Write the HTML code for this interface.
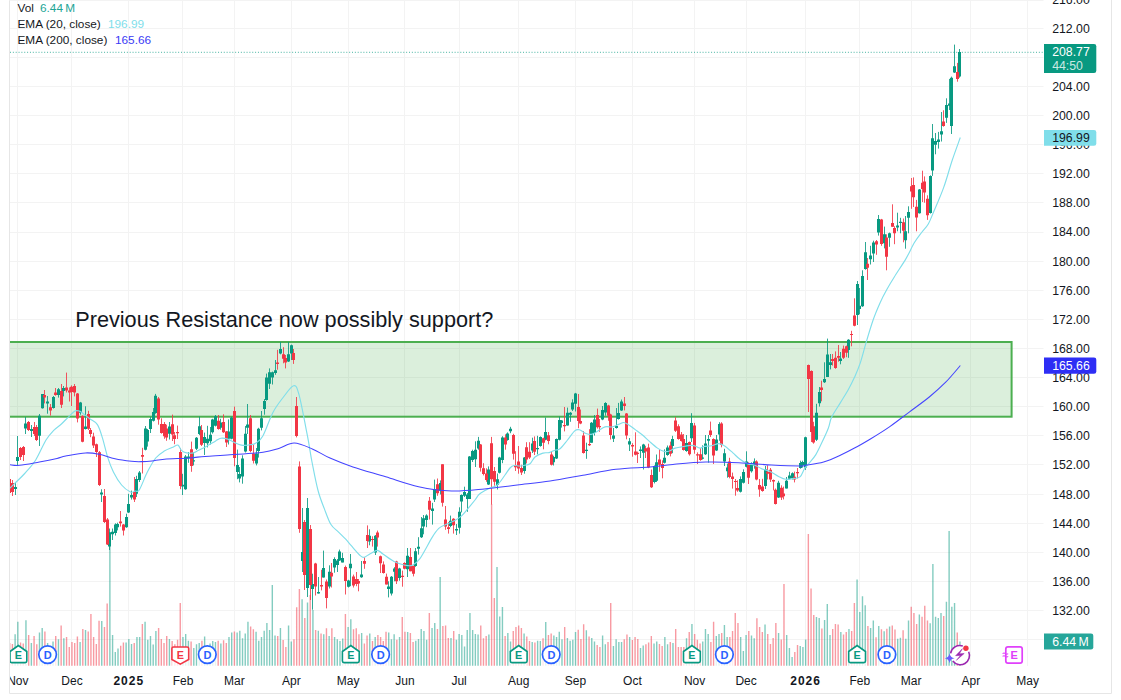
<!DOCTYPE html><html><head><meta charset="utf-8"><style>html,body{margin:0;padding:0;background:#fff;width:1121px;height:700px;overflow:hidden}svg{position:absolute;left:0;top:0;font-family:"Liberation Sans",sans-serif}</style></head><body><svg width="1121" height="700" viewBox="0 0 1121 700"><defs><clipPath id="pane"><rect x="10" y="0" width="1033.5" height="666"/></clipPath><clipPath id="bclip"><rect x="9.6" y="600" width="100" height="70"/></clipPath><clipPath id="tax"><rect x="10" y="666" width="1101" height="27"/></clipPath></defs><path d="M10 639.5H1043.5 M10 610.5H1043.5 M10 581.5H1043.5 M10 552.5H1043.5 M10 523.5H1043.5 M10 494.5H1043.5 M10 464.5H1043.5 M10 435.5H1043.5 M10 406.5H1043.5 M10 377.5H1043.5 M10 348.5H1043.5 M10 319.5H1043.5 M10 290.5H1043.5 M10 261.5H1043.5 M10 232.5H1043.5 M10 202.5H1043.5 M10 173.5H1043.5 M10 144.5H1043.5 M10 115.5H1043.5 M10 86.5H1043.5 M10 57.5H1043.5 M10 28.5H1043.5 M10 -0.5H1043.5 M17.5 0V666 M71.5 0V666 M128.5 0V666 M182.5 0V666 M234.5 0V666 M291.5 0V666 M348.5 0V666 M404.5 0V666 M459.5 0V666 M518.5 0V666 M575.5 0V666 M632.5 0V666 M694.5 0V666 M746.5 0V666 M805.5 0V666 M859.5 0V666 M911.5 0V666 M970.5 0V666 M1027.5 0V666" stroke="#f3f3f3" stroke-width="1" fill="none"/><g clip-path="url(#pane)"><path d="M15.12 634.3V665.7 M17.83 621.7V665.7 M25.95 620.3V665.7 M31.36 643.0V665.7 M39.49 632.6V665.7 M42.19 627.9V665.7 M47.61 642.9V665.7 M53.02 641.4V665.7 M58.44 639.3V665.7 M63.85 638.3V665.7 M80.10 642.1V665.7 M85.51 630.0V665.7 M101.75 621.1V665.7 M109.88 546.0V665.7 M112.58 635.0V665.7 M115.29 652.1V665.7 M118.00 648.6V665.7 M126.12 642.6V665.7 M128.83 638.9V665.7 M131.53 644.0V665.7 M136.95 636.9V665.7 M139.66 636.9V665.7 M145.07 621.7V665.7 M147.78 639.7V665.7 M150.48 636.0V665.7 M153.19 644.6V665.7 M155.90 631.1V665.7 M169.43 638.9V665.7 M182.97 637.1V665.7 M185.68 634.0V665.7 M188.39 640.7V665.7 M193.80 647.9V665.7 M196.51 644.3V665.7 M199.21 642.9V665.7 M204.63 636.4V665.7 M207.34 648.0V665.7 M210.04 643.6V665.7 M212.75 641.0V665.7 M215.46 642.1V665.7 M220.87 643.6V665.7 M228.99 637.1V665.7 M231.70 632.6V665.7 M237.12 632.6V665.7 M239.82 630.7V665.7 M242.53 638.3V665.7 M245.24 633.6V665.7 M247.95 621.7V665.7 M256.07 631.7V665.7 M258.77 640.7V665.7 M261.48 637.1V665.7 M264.19 630.7V665.7 M266.90 622.9V665.7 M269.60 630.0V665.7 M272.31 585.0V665.7 M275.02 635.4V665.7 M280.43 627.9V665.7 M288.55 625.4V665.7 M291.26 641.4V665.7 M302.09 599.3V665.7 M307.51 602.6V665.7 M312.92 610.0V665.7 M318.33 630.7V665.7 M323.75 634.3V665.7 M329.16 636.0V665.7 M334.58 636.9V665.7 M337.28 639.3V665.7 M339.99 641.1V665.7 M342.70 638.6V665.7 M348.11 627.1V665.7 M350.82 619.3V665.7 M361.65 633.1V665.7 M369.77 633.6V665.7 M375.19 637.1V665.7 M388.72 632.6V665.7 M391.43 639.3V665.7 M394.14 634.3V665.7 M399.55 637.1V665.7 M407.67 632.1V665.7 M415.80 640.7V665.7 M418.50 638.9V665.7 M421.21 628.9V665.7 M423.92 631.1V665.7 M426.62 639.7V665.7 M432.04 627.9V665.7 M434.75 623.1V665.7 M440.16 576.9V665.7 M450.99 637.9V665.7 M456.40 639.7V665.7 M459.11 634.0V665.7 M461.82 635.0V665.7 M464.53 646.4V665.7 M467.23 630.0V665.7 M469.94 612.9V665.7 M472.65 630.0V665.7 M475.35 634.0V665.7 M478.06 634.6V665.7 M488.89 634.6V665.7 M497.01 567.0V665.7 M499.72 616.4V665.7 M502.43 607.1V665.7 M507.84 632.9V665.7 M510.55 641.4V665.7 M524.09 633.6V665.7 M532.21 642.1V665.7 M537.62 640.7V665.7 M540.33 641.1V665.7 M545.74 622.1V665.7 M553.87 635.4V665.7 M556.57 637.1V665.7 M559.28 631.7V665.7 M561.99 639.3V665.7 M567.40 637.9V665.7 M570.11 640.7V665.7 M572.82 639.7V665.7 M575.52 632.1V665.7 M586.35 630.3V665.7 M591.77 637.9V665.7 M594.47 641.4V665.7 M602.60 635.4V665.7 M605.30 644.3V665.7 M613.43 646.0V665.7 M616.13 639.3V665.7 M618.84 642.1V665.7 M621.55 642.1V665.7 M629.67 636.9V665.7 M640.50 647.9V665.7 M643.20 645.4V665.7 M654.03 643.6V665.7 M656.74 641.4V665.7 M664.86 636.9V665.7 M667.57 644.3V665.7 M672.98 643.0V665.7 M686.52 638.3V665.7 M691.94 624.0V665.7 M702.76 641.4V665.7 M705.47 628.9V665.7 M708.18 634.0V665.7 M716.30 636.0V665.7 M719.01 634.0V665.7 M724.42 625.0V665.7 M727.13 637.1V665.7 M740.67 637.1V665.7 M743.37 651.1V665.7 M746.08 635.0V665.7 M751.50 635.4V665.7 M754.20 638.3V665.7 M765.03 624.6V665.7 M778.57 633.0V665.7 M786.69 635.0V665.7 M789.40 648.0V665.7 M792.10 657.0V665.7 M800.23 646.0V665.7 M802.93 647.0V665.7 M805.64 639.6V665.7 M816.47 617.0V665.7 M819.18 618.0V665.7 M824.59 620.0V665.7 M827.30 604.0V665.7 M830.01 635.0V665.7 M840.83 632.0V665.7 M848.96 629.0V665.7 M857.08 579.6V665.7 M859.79 612.0V665.7 M862.49 596.3V665.7 M865.20 605.2V665.7 M870.61 628.1V665.7 M873.32 620.6V665.7 M878.74 626.0V665.7 M884.15 631.3V665.7 M889.57 626.6V665.7 M897.69 638.8V665.7 M900.39 637.8V665.7 M905.81 638.8V665.7 M908.52 620.6V665.7 M919.35 614.6V665.7 M930.17 623.2V665.7 M932.88 563.9V665.7 M935.59 616.8V665.7 M938.30 618.1V665.7 M941.00 613.1V665.7 M946.42 601.8V665.7 M949.12 531.1V665.7 M951.83 606.7V665.7 M954.54 603.0V665.7 M959.95 641.6V665.7" stroke="rgba(8,153,129,0.5)" stroke-width="1.4" fill="none"/><path d="M9.71 642.9V665.7 M12.41 644.0V665.7 M20.54 642.6V665.7 M23.24 643.6V665.7 M28.66 635.0V665.7 M34.07 636.0V665.7 M36.78 644.3V665.7 M44.90 631.4V665.7 M50.32 645.7V665.7 M55.73 636.0V665.7 M61.14 625.4V665.7 M66.56 636.9V665.7 M69.27 646.9V665.7 M71.97 642.1V665.7 M74.68 643.0V665.7 M77.39 636.4V665.7 M82.80 628.9V665.7 M88.22 631.4V665.7 M90.92 614.0V665.7 M93.63 637.1V665.7 M96.34 644.0V665.7 M99.05 620.7V665.7 M104.46 627.1V665.7 M107.17 603.6V665.7 M120.70 645.7V665.7 M123.41 642.6V665.7 M134.24 643.0V665.7 M142.36 624.0V665.7 M158.61 627.9V665.7 M161.31 638.9V665.7 M164.02 643.0V665.7 M166.73 636.0V665.7 M172.14 641.1V665.7 M174.85 644.3V665.7 M177.56 639.7V665.7 M180.26 602.9V665.7 M191.09 641.4V665.7 M201.92 640.7V665.7 M218.17 640.7V665.7 M223.58 640.3V665.7 M226.29 643.0V665.7 M234.41 631.4V665.7 M250.65 626.4V665.7 M253.36 629.3V665.7 M277.73 636.0V665.7 M283.14 640.0V665.7 M285.85 647.1V665.7 M293.97 639.3V665.7 M296.68 607.2V665.7 M299.38 589.0V665.7 M304.80 617.9V665.7 M310.21 595.0V665.7 M315.63 630.0V665.7 M321.04 633.6V665.7 M326.46 628.3V665.7 M331.87 628.3V665.7 M345.41 614.0V665.7 M353.53 629.3V665.7 M356.24 628.3V665.7 M358.94 634.3V665.7 M364.36 643.6V665.7 M367.06 635.4V665.7 M372.48 641.1V665.7 M377.89 635.0V665.7 M380.60 637.1V665.7 M383.31 641.1V665.7 M386.02 631.7V665.7 M396.84 639.7V665.7 M402.26 617.1V665.7 M404.97 631.7V665.7 M410.38 632.9V665.7 M413.09 642.1V665.7 M429.33 612.9V665.7 M437.45 628.9V665.7 M442.87 626.0V665.7 M445.58 625.4V665.7 M448.28 637.9V665.7 M453.70 631.1V665.7 M480.77 625.4V665.7 M483.48 638.3V665.7 M486.18 636.0V665.7 M491.60 504.0V665.7 M494.31 597.9V665.7 M505.13 636.0V665.7 M513.26 631.1V665.7 M515.96 627.1V665.7 M518.67 625.4V665.7 M521.38 627.9V665.7 M526.79 636.4V665.7 M529.50 641.1V665.7 M534.91 642.6V665.7 M543.04 638.3V665.7 M548.45 635.0V665.7 M551.16 633.6V665.7 M564.69 627.1V665.7 M578.23 629.7V665.7 M580.94 638.9V665.7 M583.65 624.3V665.7 M589.06 636.4V665.7 M597.18 645.0V665.7 M599.89 647.1V665.7 M608.01 642.1V665.7 M610.72 602.9V665.7 M624.25 639.3V665.7 M626.96 634.6V665.7 M632.38 640.0V665.7 M635.08 637.1V665.7 M637.79 638.9V665.7 M645.91 644.3V665.7 M648.62 642.6V665.7 M651.33 636.0V665.7 M659.45 644.0V665.7 M662.16 646.0V665.7 M670.28 642.1V665.7 M675.69 628.9V665.7 M678.40 647.1V665.7 M681.11 647.1V665.7 M683.81 647.1V665.7 M689.23 632.1V665.7 M694.64 634.0V665.7 M697.35 639.7V665.7 M700.06 643.6V665.7 M710.89 642.1V665.7 M713.59 621.7V665.7 M721.72 632.9V665.7 M729.84 637.1V665.7 M732.54 631.1V665.7 M735.25 612.9V665.7 M737.96 622.9V665.7 M748.79 631.1V665.7 M756.91 618.3V665.7 M759.62 627.1V665.7 M762.32 632.1V665.7 M767.74 634.0V665.7 M770.45 644.0V665.7 M773.15 637.9V665.7 M775.86 623.1V665.7 M781.27 639.6V665.7 M783.98 584.0V665.7 M794.81 652.0V665.7 M797.52 645.0V665.7 M808.35 534.0V665.7 M811.05 588.4V665.7 M813.76 615.0V665.7 M821.88 628.4V665.7 M832.71 629.0V665.7 M835.42 624.0V665.7 M838.13 624.4V665.7 M843.54 634.4V665.7 M846.25 632.0V665.7 M851.66 631.0V665.7 M854.37 603.0V665.7 M867.91 626.0V665.7 M876.03 637.3V665.7 M881.44 629.2V665.7 M886.86 628.8V665.7 M892.27 625.4V665.7 M894.98 629.6V665.7 M903.10 630.3V665.7 M911.22 606.7V665.7 M913.93 613.1V665.7 M916.64 623.9V665.7 M922.05 616.8V665.7 M924.76 605.7V665.7 M927.47 620.6V665.7 M943.71 616.0V665.7 M957.25 632.4V665.7" stroke="rgba(242,54,69,0.5)" stroke-width="1.4" fill="none"/><rect x="-5" y="342" width="1016.6" height="74.7" fill="rgba(76,175,80,0.2)" stroke="#4caf50" stroke-width="2"/><path d="M15.5 483.0V495.0 M17.5 436.0V466.0 M25.5 417.0V434.0 M31.5 425.0V437.0 M39.5 414.0V446.0 M42.5 394.0V408.6 M47.5 396.0V413.7 M53.5 396.0V408.6 M58.5 388.0V397.6 M63.5 386.0V396.4 M80.5 401.9V414.7 M85.5 406.3V429.5 M101.5 489.3V502.0 M109.5 528.5V550.0 M112.5 528.5V540.0 M115.5 523.3V535.5 M117.5 522.7V530.4 M126.5 513.7V527.8 M128.5 493.8V513.0 M131.5 490.6V499.6 M136.5 475.8V497.0 M139.5 471.0V482.0 M145.5 426.0V450.4 M147.5 429.0V446.6 M150.5 417.0V433.0 M153.5 408.0V421.5 M155.5 393.9V413.8 M169.5 422.0V439.5 M182.5 473.8V495.0 M185.5 455.0V489.8 M188.5 452.0V462.8 M193.5 452.0V465.4 M196.5 437.0V450.0 M199.5 416.6V435.2 M204.5 432.6V455.0 M207.5 425.8V447.4 M210.5 427.0V444.5 M212.5 418.8V433.6 M215.5 415.0V426.5 M220.5 418.8V429.7 M228.5 419.4V444.5 M231.5 416.8V439.3 M237.5 449.6V479.2 M239.5 467.0V482.4 M242.5 455.3V483.7 M245.5 426.0V452.5 M247.5 404.0V434.0 M256.5 448.0V465.4 M258.5 427.8V457.6 M261.5 411.0V430.4 M264.5 399.0V414.7 M266.5 373.6V400.6 M269.5 368.4V389.0 M272.5 371.6V384.5 M275.5 360.0V374.8 M280.5 342.0V354.3 M288.5 342.0V362.0 M291.5 344.6V360.0 M302.5 508.0V572.0 M307.5 498.0V597.0 M312.5 573.7V609.7 M318.5 577.0V593.6 M323.5 550.6V577.6 M329.5 565.3V588.5 M334.5 557.3V572.7 M337.5 559.0V572.0 M339.5 549.6V561.0 M342.5 552.8V562.4 M348.5 579.8V587.5 M350.5 554.0V586.2 M361.5 561.0V577.8 M369.5 529.3V545.3 M375.5 535.0V555.0 M388.5 581.3V597.4 M391.5 576.0V595.5 M394.5 567.2V581.3 M399.5 567.8V580.7 M407.5 548.0V577.0 M415.5 548.0V566.8 M418.5 537.2V554.6 M421.5 517.0V538.0 M423.5 515.0V534.3 M426.5 514.3V527.2 M432.5 502.8V524.6 M434.5 479.6V502.0 M440.5 480.4V494.5 M450.5 515.6V527.2 M456.5 524.0V535.0 M459.5 507.3V533.6 M461.5 494.4V512.4 M464.5 486.7V497.0 M467.5 493.0V511.8 M469.5 456.0V499.0 M472.5 449.7V462.0 M475.5 441.3V467.0 M478.5 436.9V449.7 M488.5 466.4V485.0 M497.5 473.5V489.5 M499.5 456.8V473.5 M502.5 436.2V463.2 M507.5 432.4V440.7 M510.5 426.8V433.2 M524.5 457.0V473.7 M532.5 437.7V453.0 M537.5 435.8V454.4 M540.5 436.4V446.7 M545.5 417.5V440.3 M553.5 455.8V465.5 M556.5 438.5V459.0 M559.5 416.6V440.4 M561.5 420.0V427.6 M567.5 407.6V425.6 M570.5 412.0V421.8 M572.5 399.3V411.0 M575.5 392.9V411.5 M586.5 442.7V458.8 M591.5 422.0V442.7 M594.5 415.0V435.6 M602.5 406.0V420.2 M605.5 402.2V415.7 M613.5 428.0V442.0 M616.5 408.0V428.6 M618.5 402.9V419.6 M621.5 399.5V411.0 M629.5 438.0V451.0 M640.5 446.4V458.0 M643.5 443.8V469.5 M654.5 465.4V483.4 M656.5 454.5V482.0 M664.5 449.3V463.5 M667.5 445.5V455.8 M672.5 435.8V453.2 M686.5 435.0V451.8 M691.5 413.2V442.0 M702.5 445.3V459.5 M705.5 435.0V455.0 M708.5 435.0V462.7 M716.5 435.0V451.0 M719.5 422.2V440.8 M724.5 448.8V466.0 M727.5 463.6V477.7 M740.5 476.4V492.5 M743.5 469.3V483.5 M746.5 451.3V467.4 M751.5 462.3V472.6 M754.5 458.4V468.7 M765.5 466.0V489.0 M778.5 480.8V498.0 M786.5 477.0V488.5 M789.5 471.8V479.5 M792.5 472.4V479.5 M800.5 460.7V468.7 M802.5 460.7V467.6 M805.5 436.7V469.9 M816.5 403.8V441.0 M819.5 387.0V406.6 M824.5 362.3V383.0 M827.5 338.6V377.0 M830.5 354.0V369.4 M840.5 352.0V364.3 M848.5 339.2V357.8 M857.5 281.0V325.0 M859.5 288.0V314.3 M862.5 270.3V306.9 M865.5 242.0V269.7 M870.5 245.8V264.5 M873.5 240.7V262.0 M878.5 215.0V235.6 M884.5 226.6V248.4 M889.5 232.6V246.8 M897.5 212.7V231.3 M900.5 217.8V233.3 M905.5 216.0V248.7 M908.5 206.3V233.3 M919.5 189.0V213.6 M930.5 175.3V213.6 M932.5 124.0V175.9 M935.5 133.0V154.3 M938.5 131.9V148.6 M941.5 112.0V141.5 M946.5 98.3V122.9 M949.5 78.9V110.0 M951.5 76.6V134.0 M954.5 44.6V73.0 M959.5 49.0V77.7" stroke="#089981" stroke-opacity="0.85" stroke-width="1" fill="none"/><path d="M9.5 477.0V495.0 M12.5 480.0V496.0 M20.5 447.0V460.0 M23.5 446.0V461.0 M28.5 421.0V431.0 M34.5 422.0V436.0 M36.5 425.0V441.0 M44.5 390.0V403.4 M50.5 404.0V415.6 M55.5 388.0V395.7 M61.5 384.0V408.0 M66.5 372.6V392.5 M69.5 387.4V401.5 M71.5 385.4V406.0 M74.5 384.0V396.4 M77.5 393.0V422.4 M82.5 415.3V442.3 M88.5 410.8V430.0 M90.5 428.0V437.2 M93.5 432.7V448.0 M96.5 443.6V457.0 M99.5 451.0V486.0 M104.5 489.0V523.0 M107.5 518.0V545.0 M120.5 511.0V526.6 M123.5 524.0V535.5 M134.5 477.0V502.0 M142.5 447.8V473.5 M158.5 397.0V424.7 M161.5 418.3V433.7 M164.5 422.0V438.8 M166.5 424.7V440.8 M172.5 414.6V441.0 M174.5 432.0V444.2 M177.5 425.6V439.0 M180.5 448.0V489.2 M191.5 441.6V471.8 M201.5 425.0V446.0 M218.5 415.0V429.7 M223.5 414.3V433.0 M226.5 431.0V447.0 M234.5 406.6V466.3 M250.5 415.0V452.3 M253.5 444.7V463.5 M277.5 349.8V369.7 M283.5 347.2V363.3 M285.5 355.0V368.4 M293.5 349.0V363.9 M296.5 397.0V437.4 M299.5 461.4V532.8 M304.5 520.0V590.0 M310.5 525.0V600.0 M315.5 562.8V595.5 M321.5 569.8V590.4 M326.5 579.5V608.4 M331.5 563.0V587.5 M345.5 565.6V594.5 M353.5 574.6V587.5 M356.5 572.0V586.2 M358.5 579.0V591.3 M364.5 557.3V568.8 M367.5 525.4V548.0 M372.5 536.3V546.6 M377.5 530.6V546.6 M380.5 555.6V573.0 M383.5 561.4V573.6 M386.5 573.6V584.5 M396.5 560.8V584.0 M402.5 570.6V586.7 M404.5 562.3V569.3 M410.5 548.0V571.3 M413.5 565.5V576.4 M429.5 497.0V519.5 M437.5 478.5V495.8 M442.5 464.3V506.6 M445.5 506.0V529.8 M448.5 522.0V533.6 M453.5 518.2V533.6 M480.5 444.0V471.6 M483.5 463.2V475.4 M486.5 468.3V481.8 M491.5 436.9V504.5 M494.5 467.0V485.7 M505.5 434.3V449.7 M513.5 433.8V459.6 M515.5 451.2V471.0 M518.5 446.0V473.7 M521.5 464.7V475.0 M526.5 442.2V463.4 M529.5 442.2V459.0 M534.5 436.4V455.0 M543.5 437.7V449.3 M548.5 432.0V444.3 M551.5 451.3V465.5 M564.5 407.0V431.4 M578.5 394.0V428.2 M580.5 409.5V424.2 M583.5 431.0V453.6 M589.5 429.2V446.0 M597.5 408.6V428.6 M599.5 419.0V431.8 M608.5 404.8V420.8 M610.5 413.8V439.5 M624.5 397.0V410.4 M626.5 413.0V439.3 M632.5 443.2V456.7 M635.5 432.3V455.4 M637.5 451.6V463.0 M645.5 445.8V458.0 M648.5 443.7V468.2 M651.5 469.5V488.0 M659.5 449.3V471.8 M662.5 460.3V478.3 M670.5 441.6V456.4 M675.5 417.2V432.0 M678.5 424.3V439.7 M681.5 432.0V441.6 M683.5 434.0V450.6 M689.5 441.5V455.6 M694.5 422.9V453.7 M697.5 452.4V464.0 M700.5 448.0V460.8 M710.5 421.6V437.0 M713.5 438.3V464.0 M721.5 422.2V447.3 M729.5 457.8V478.3 M732.5 472.6V488.6 M735.5 479.0V495.7 M737.5 480.3V491.8 M748.5 462.3V484.0 M756.5 460.3V480.3 M759.5 479.0V496.8 M762.5 478.8V491.7 M767.5 465.3V479.5 M770.5 468.0V482.0 M773.5 479.5V490.4 M775.5 488.5V504.5 M781.5 485.3V500.0 M783.5 486.6V499.4 M794.5 471.6V482.4 M797.5 468.0V478.4 M808.5 364.6V412.0 M811.5 370.4V442.0 M813.5 421.8V443.7 M821.5 380.7V401.3 M832.5 354.0V365.6 M835.5 351.4V368.8 M838.5 345.0V361.7 M843.5 345.6V359.0 M846.5 345.6V357.2 M851.5 330.8V346.3 M854.5 298.3V326.3 M867.5 258.0V280.0 M876.5 240.0V254.8 M881.5 218.9V245.8 M886.5 234.3V270.3 M892.5 204.3V226.8 M894.5 226.2V244.2 M903.5 218.5V242.3 M911.5 178.0V208.8 M913.5 177.4V207.0 M916.5 199.9V231.3 M922.5 170.7V202.0 M924.5 176.4V202.7 M927.5 195.3V219.9 M943.5 110.3V126.7 M957.5 62.9V81.7" stroke="#f23645" stroke-opacity="0.85" stroke-width="1" fill="none"/><path d="M14 487.0h3v2.0h-3z M16 457.0h3v4.0h-3z M24 423.5h3v5.1h-3z M30 429.0h3v2.0h-3z M38 415.8h3v19.9h-3z M41 394.0h3v14.3h-3z M46 401.5h3v1.9h-3z M52 397.0h3v11.0h-3z M57 389.3h3v5.7h-3z M62 388.0h3v3.0h-3z M79 402.5h3v10.3h-3z M84 426.5h3v2.5h-3z M100 492.5h3v1.9h-3z M108 532.3h3v14.2h-3z M111 531.7h3v2.6h-3z M114 524.6h3v8.4h-3z M116 524.0h3v3.2h-3z M125 517.0h3v10.2h-3z M127 504.0h3v8.4h-3z M130 495.0h3v2.6h-3z M135 479.0h3v14.8h-3z M138 472.6h3v7.4h-3z M144 428.6h3v21.2h-3z M146 430.0h3v11.4h-3z M149 419.0h3v10.0h-3z M152 411.9h3v8.9h-3z M154 395.8h3v17.2h-3z M168 426.6h3v7.1h-3z M181 484.7h3v1.9h-3z M184 456.4h3v32.8h-3z M187 456.4h3v1.9h-3z M192 460.3h3v1.3h-3z M195 437.8h3v10.9h-3z M198 426.2h3v7.8h-3z M203 437.0h3v6.0h-3z M206 438.7h3v4.5h-3z M209 434.8h3v6.5h-3z M211 419.4h3v12.9h-3z M214 416.2h3v9.6h-3z M219 422.6h3v5.2h-3z M227 431.6h3v7.1h-3z M230 417.5h3v21.2h-3z M236 465.0h3v7.0h-3z M238 474.0h3v4.5h-3z M241 458.5h3v17.9h-3z M244 433.7h3v17.9h-3z M246 424.6h3v3.2h-3z M255 453.4h3v10.1h-3z M257 428.7h3v22.3h-3z M260 418.2h3v9.6h-3z M263 401.0h3v8.0h-3z M265 377.4h3v22.6h-3z M268 372.3h3v11.5h-3z M271 372.3h3v5.1h-3z M274 370.3h3v2.6h-3z M279 349.0h3v4.6h-3z M287 354.3h3v7.1h-3z M290 345.3h3v8.3h-3z M301 552.0h3v9.0h-3z M306 508.0h3v80.0h-3z M311 584.0h3v5.0h-3z M317 592.0h3v1.6h-3z M322 568.0h3v9.6h-3z M328 571.8h3v14.7h-3z M333 559.0h3v8.6h-3z M336 560.5h3v4.5h-3z M338 551.5h3v9.0h-3z M341 558.0h3v4.4h-3z M347 580.4h3v6.4h-3z M349 563.7h3v4.5h-3z M360 574.6h3v2.6h-3z M368 535.7h3v5.8h-3z M374 535.7h3v16.7h-3z M387 586.5h3v2.5h-3z M390 576.8h3v16.7h-3z M393 568.5h3v3.2h-3z M398 568.5h3v9.5h-3z M406 555.8h3v13.5h-3z M414 551.3h3v14.7h-3z M417 546.8h3v2.0h-3z M420 528.2h3v9.0h-3z M422 518.2h3v8.4h-3z M425 515.6h3v4.4h-3z M431 508.6h3v2.4h-3z M433 489.3h3v10.3h-3z M439 483.0h3v7.7h-3z M449 520.8h3v5.2h-3z M455 529.0h3v1.4h-3z M458 511.8h3v16.0h-3z M460 495.0h3v6.5h-3z M463 491.9h3v3.8h-3z M466 494.4h3v4.6h-3z M468 456.6h3v42.4h-3z M471 451.0h3v9.0h-3z M474 449.7h3v9.6h-3z M477 440.7h3v7.7h-3z M487 469.6h3v14.8h-3z M496 479.3h3v5.7h-3z M498 457.4h3v15.4h-3z M501 437.5h3v22.5h-3z M506 433.6h3v6.4h-3z M509 428.7h3v2.6h-3z M523 457.6h3v13.4h-3z M531 443.5h3v7.0h-3z M536 448.0h3v1.3h-3z M539 437.0h3v9.0h-3z M544 432.0h3v7.7h-3z M552 457.0h3v5.3h-3z M555 439.0h3v19.4h-3z M558 420.0h3v19.8h-3z M560 420.5h3v2.5h-3z M566 412.8h3v12.8h-3z M569 412.8h3v1.9h-3z M571 402.5h3v7.1h-3z M574 393.5h3v10.3h-3z M585 449.8h3v1.2h-3z M590 422.8h3v19.9h-3z M593 419.6h3v13.4h-3z M601 410.0h3v9.6h-3z M604 402.9h3v9.6h-3z M612 435.6h3v3.2h-3z M615 426.0h3v2.0h-3z M617 413.0h3v6.0h-3z M620 401.4h3v9.0h-3z M628 441.3h3v3.2h-3z M639 449.6h3v1.4h-3z M642 444.5h3v8.3h-3z M653 466.0h3v16.0h-3z M655 462.2h3v18.6h-3z M663 457.7h3v5.1h-3z M666 447.4h3v7.6h-3z M671 439.0h3v7.0h-3z M685 443.0h3v8.0h-3z M690 422.9h3v15.4h-3z M701 457.6h3v1.2h-3z M704 443.4h3v10.9h-3z M707 439.0h3v1.8h-3z M715 439.6h3v10.9h-3z M718 424.0h3v10.4h-3z M723 453.3h3v8.3h-3z M726 467.4h3v3.9h-3z M739 479.0h3v12.8h-3z M742 472.0h3v10.8h-3z M745 461.6h3v5.2h-3z M750 463.6h3v7.7h-3z M753 461.6h3v3.9h-3z M764 469.2h3v16.8h-3z M777 482.7h3v14.8h-3z M785 480.8h3v7.7h-3z M788 475.6h3v3.2h-3z M791 473.3h3v4.9h-3z M799 463.0h3v5.0h-3z M801 461.9h3v3.4h-3z M804 437.3h3v30.3h-3z M815 412.8h3v27.0h-3z M818 392.0h3v11.3h-3z M823 379.0h3v3.3h-3z M826 354.6h3v22.4h-3z M829 362.3h3v2.7h-3z M839 358.5h3v2.5h-3z M847 339.8h3v10.2h-3z M856 284.0h3v30.9h-3z M858 305.7h3v3.3h-3z M861 276.0h3v30.3h-3z M864 252.3h3v16.7h-3z M869 255.5h3v3.8h-3z M872 242.6h3v11.0h-3z M877 218.9h3v13.5h-3z M883 234.3h3v9.0h-3z M888 233.3h3v4.5h-3z M896 225.6h3v1.9h-3z M899 221.7h3v1.3h-3z M904 231.3h3v9.0h-3z M907 212.0h3v5.8h-3z M918 189.6h3v23.7h-3z M929 175.9h3v37.1h-3z M931 138.3h3v32.1h-3z M934 141.0h3v3.7h-3z M937 139.6h3v2.4h-3z M940 131.2h3v3.2h-3z M945 105.0h3v12.7h-3z M948 103.4h3v2.3h-3z M950 77.7h3v48.3h-3z M953 66.3h3v6.3h-3z M958 52.0h3v24.6h-3z" fill="#089981"/><path d="M8 479.0h3v14.0h-3z M11 483.0h3v9.0h-3z M19 448.0h3v9.0h-3z M22 447.0h3v8.0h-3z M27 422.0h3v8.0h-3z M33 427.0h3v7.0h-3z M35 427.0h3v13.0h-3z M43 395.0h3v2.6h-3z M49 407.3h3v3.2h-3z M54 392.5h3v2.5h-3z M60 391.0h3v13.7h-3z M65 387.4h3v3.2h-3z M68 390.6h3v1.9h-3z M70 386.7h3v5.2h-3z M73 386.0h3v6.5h-3z M76 393.5h3v25.1h-3z M81 416.0h3v25.7h-3z M87 414.0h3v14.8h-3z M89 430.0h3v4.0h-3z M92 436.6h3v9.0h-3z M95 444.3h3v7.7h-3z M98 452.2h3v32.8h-3z M103 496.0h3v26.0h-3z M106 519.5h3v25.0h-3z M119 521.4h3v1.9h-3z M122 524.6h3v5.8h-3z M133 491.9h3v7.7h-3z M141 455.0h3v1.8h-3z M157 398.4h3v21.2h-3z M160 424.0h3v9.0h-3z M163 424.0h3v12.3h-3z M165 428.6h3v9.0h-3z M171 424.3h3v10.3h-3z M173 435.2h3v3.8h-3z M176 432.0h3v1.3h-3z M179 452.0h3v34.0h-3z M190 449.3h3v16.7h-3z M200 430.0h3v14.8h-3z M217 420.7h3v8.3h-3z M222 422.0h3v10.3h-3z M225 431.6h3v11.0h-3z M233 411.0h3v47.0h-3z M249 418.2h3v32.8h-3z M252 453.4h3v7.4h-3z M276 362.6h3v1.4h-3z M282 354.3h3v4.5h-3z M284 358.0h3v4.6h-3z M292 353.0h3v7.0h-3z M295 406.0h3v30.0h-3z M298 466.6h3v62.4h-3z M303 522.0h3v53.0h-3z M309 529.0h3v56.0h-3z M314 563.4h3v23.1h-3z M320 585.0h3v1.5h-3z M325 581.4h3v16.6h-3z M330 572.7h3v3.9h-3z M344 567.0h3v14.0h-3z M352 576.6h3v8.9h-3z M355 579.0h3v5.0h-3z M357 581.0h3v2.6h-3z M363 561.0h3v2.7h-3z M366 535.0h3v6.0h-3z M371 539.0h3v1.0h-3z M376 532.5h3v5.1h-3z M379 556.3h3v7.0h-3z M382 564.6h3v8.4h-3z M385 576.8h3v7.7h-3z M395 561.4h3v19.9h-3z M401 575.8h3v1.2h-3z M403 563.0h3v5.7h-3z M409 557.0h3v14.3h-3z M412 566.0h3v7.8h-3z M428 500.8h3v9.0h-3z M436 484.3h3v9.0h-3z M441 464.3h3v38.5h-3z M444 519.5h3v7.1h-3z M447 527.2h3v1.9h-3z M452 518.8h3v6.5h-3z M479 444.6h3v23.1h-3z M482 468.3h3v5.7h-3z M485 473.5h3v6.5h-3z M490 443.3h3v36.0h-3z M493 471.0h3v10.8h-3z M504 437.5h3v7.1h-3z M512 435.0h3v18.8h-3z M514 465.3h3v2.0h-3z M517 461.5h3v7.0h-3z M520 468.0h3v4.4h-3z M525 447.3h3v12.3h-3z M528 451.8h3v5.8h-3z M533 441.0h3v10.8h-3z M542 438.3h3v4.5h-3z M547 435.3h3v5.7h-3z M550 454.5h3v10.3h-3z M563 425.0h3v1.3h-3z M577 407.0h3v14.0h-3z M579 421.0h3v2.5h-3z M582 435.5h3v17.5h-3z M588 444.0h3v1.3h-3z M596 415.0h3v12.3h-3z M598 426.0h3v1.3h-3z M607 405.4h3v10.3h-3z M609 414.4h3v20.6h-3z M623 403.4h3v2.6h-3z M625 413.6h3v21.9h-3z M631 445.0h3v1.4h-3z M634 451.6h3v3.2h-3z M636 452.8h3v1.2h-3z M644 448.3h3v3.3h-3z M647 447.5h3v20.0h-3z M650 475.0h3v12.3h-3z M658 459.6h3v5.2h-3z M661 464.0h3v4.0h-3z M669 445.5h3v8.3h-3z M674 420.4h3v10.3h-3z M677 426.2h3v12.8h-3z M680 434.6h3v6.4h-3z M682 439.0h3v11.0h-3z M688 442.0h3v12.3h-3z M693 425.4h3v24.4h-3z M696 454.3h3v1.3h-3z M699 454.3h3v5.7h-3z M709 430.6h3v4.4h-3z M712 439.0h3v16.6h-3z M720 423.5h3v21.5h-3z M728 461.6h3v15.4h-3z M731 476.4h3v2.6h-3z M734 481.0h3v1.0h-3z M736 488.0h3v2.6h-3z M747 464.8h3v12.9h-3z M755 461.5h3v18.1h-3z M758 485.0h3v4.5h-3z M761 486.6h3v4.4h-3z M766 471.8h3v1.9h-3z M769 469.8h3v9.7h-3z M772 480.0h3v1.4h-3z M774 489.8h3v14.2h-3z M780 487.8h3v9.7h-3z M782 493.6h3v2.6h-3z M793 476.7h3v2.9h-3z M796 472.0h3v1.3h-3z M807 365.0h3v14.0h-3z M810 371.0h3v61.0h-3z M812 426.3h3v16.1h-3z M820 387.6h3v2.3h-3z M831 359.0h3v2.0h-3z M834 357.8h3v10.2h-3z M837 356.0h3v1.8h-3z M842 348.8h3v9.0h-3z M845 346.3h3v6.4h-3z M850 334.0h3v1.0h-3z M853 315.4h3v10.3h-3z M866 263.8h3v3.9h-3z M875 241.3h3v3.3h-3z M880 219.5h3v24.5h-3z M885 237.5h3v19.3h-3z M891 223.0h3v3.8h-3z M893 228.1h3v5.2h-3z M902 222.3h3v8.4h-3z M910 186.3h3v5.2h-3z M912 185.0h3v12.3h-3z M915 206.7h3v10.9h-3z M921 182.7h3v6.3h-3z M923 181.6h3v10.8h-3z M926 198.7h3v16.6h-3z M942 121.6h3v4.4h-3z M956 72.0h3v6.9h-3z" fill="#f23645"/><path d="M9.0 489.0C10.0 488.1 12.2 486.0 14.8 483.4C17.4 480.8 21.2 477.4 24.7 473.5C28.2 469.6 32.2 465.6 35.7 460.0C39.2 454.4 43.0 444.9 46.0 440.0C49.0 435.1 51.1 433.1 53.7 430.4C56.3 427.7 58.8 426.4 61.4 424.0C64.0 421.6 66.8 418.4 69.1 416.3C71.3 414.2 73.2 412.0 74.9 411.1C76.6 410.2 78.0 410.7 79.4 411.1C80.8 411.5 81.6 412.4 83.3 413.7C85.0 415.0 87.3 417.0 89.7 418.8C92.1 420.6 95.3 421.4 97.4 424.6C99.5 427.8 100.8 432.6 102.5 438.1C104.2 443.6 105.9 451.8 107.7 457.4C109.5 463.0 111.1 467.4 113.4 472.0C115.7 476.6 118.8 481.7 121.6 485.0C124.4 488.3 128.3 491.0 130.5 492.0C132.7 493.0 133.5 491.4 135.0 491.0C136.5 490.6 137.4 492.8 139.4 489.7C141.4 486.6 144.4 477.9 147.1 472.6C149.8 467.3 152.8 461.6 155.7 458.0C158.6 454.4 161.4 452.9 164.3 451.1C167.2 449.3 170.6 448.2 172.9 447.2C175.2 446.2 176.6 444.6 178.0 445.1C179.4 445.6 180.0 449.0 181.4 450.3C182.8 451.6 184.6 452.5 186.6 452.9C188.6 453.3 191.4 453.3 193.4 452.9C195.4 452.5 196.3 451.4 198.6 450.3C200.9 449.2 204.2 447.6 207.1 446.0C209.9 444.4 213.4 442.2 215.7 440.9C218.0 439.6 218.9 438.6 220.9 438.3C222.9 438.0 225.4 438.4 227.7 439.1C230.0 439.8 232.3 441.6 234.6 442.6C236.9 443.6 238.8 444.7 241.4 445.1C244.0 445.5 247.6 445.2 250.0 444.8C252.4 444.4 253.8 444.5 256.0 443.0C258.2 441.5 260.2 440.8 263.0 435.7C265.8 430.6 269.5 419.0 272.8 412.7C276.1 406.4 279.2 402.5 282.7 398.0C286.2 393.5 290.9 386.4 293.6 385.8C296.3 385.2 296.7 386.4 299.0 394.7C301.3 403.0 305.2 424.5 307.4 435.7C309.6 446.9 310.2 452.9 312.0 462.0C313.8 471.1 315.8 482.2 317.9 490.0C319.9 497.8 322.1 502.9 324.3 508.6C326.5 514.3 328.5 520.4 330.8 524.3C333.1 528.2 335.8 529.3 338.3 531.8C340.8 534.3 343.5 536.9 345.7 539.2C347.9 541.5 348.8 542.9 351.3 545.7C353.8 548.5 358.4 554.0 360.6 555.9C362.8 557.8 362.8 557.5 364.3 557.2C365.8 556.9 367.6 555.1 369.8 554.0C372.0 552.9 375.1 550.3 377.3 550.3C379.5 550.3 380.1 552.1 382.9 554.0C385.7 555.9 390.3 559.6 394.0 561.5C397.7 563.4 402.0 564.6 405.1 565.2C408.2 565.8 410.0 566.3 412.5 565.2C415.0 564.1 416.6 563.3 419.9 558.7C423.1 554.1 428.9 542.7 432.0 537.6C435.1 532.5 436.5 530.6 438.8 528.4C441.1 526.2 443.0 525.9 445.7 524.6C448.4 523.3 452.1 522.0 454.8 520.5C457.5 519.0 459.3 518.0 461.6 515.9C463.9 513.8 466.3 510.5 468.5 507.9C470.7 505.2 473.2 502.2 475.0 500.0C476.8 497.8 477.3 496.1 479.0 494.5C480.7 492.9 483.2 491.6 485.0 490.5C486.8 489.4 488.2 488.8 490.0 488.0C491.8 487.2 494.3 487.0 496.0 486.0C497.7 485.0 498.5 483.8 500.0 482.0C501.5 480.2 503.3 477.3 505.0 475.0C506.7 472.7 508.5 469.6 510.0 468.0C511.5 466.4 512.3 465.8 514.0 465.5C515.7 465.2 518.0 466.1 520.0 466.0C522.0 465.9 524.3 465.4 526.0 465.0C527.7 464.6 528.5 465.1 530.0 463.8C531.5 462.5 532.9 458.8 535.0 457.0C537.1 455.2 540.5 453.8 542.9 453.1C545.2 452.4 547.0 453.1 549.1 452.6C551.2 452.1 553.6 450.6 555.4 450.0C557.2 449.4 558.0 450.5 560.0 448.8C562.0 447.1 565.0 443.0 567.5 440.0C570.0 437.0 572.9 432.3 575.0 430.6C577.1 428.9 578.3 429.6 580.0 430.0C581.7 430.4 583.1 432.4 585.0 433.1C586.9 433.8 589.2 434.7 591.3 434.4C593.4 434.1 595.2 432.6 597.5 431.3C599.8 430.1 602.5 427.6 605.0 426.9C607.5 426.2 610.2 427.3 612.5 426.9C614.8 426.5 616.9 425.1 618.8 424.4C620.7 423.7 622.1 422.4 623.8 422.5C625.5 422.6 626.9 423.9 628.8 425.0C630.7 426.1 632.7 427.7 635.0 429.4C637.3 431.1 640.0 432.9 642.5 435.0C645.0 437.1 647.5 439.7 650.0 441.9C652.5 444.1 655.2 446.5 657.5 448.1C659.8 449.7 661.9 450.8 663.8 451.3C665.7 451.8 666.9 451.8 668.8 451.3C670.7 450.8 672.9 448.8 675.0 448.1C677.1 447.4 679.0 447.3 681.3 446.9C683.6 446.5 686.7 445.8 688.8 445.6C690.9 445.4 691.9 445.2 693.8 445.6C695.7 446.0 698.2 448.0 700.0 448.1C701.8 448.2 702.4 446.8 704.3 446.4C706.2 446.0 709.0 446.2 711.4 445.7C713.8 445.2 716.5 443.6 718.6 443.6C720.8 443.6 721.9 444.1 724.3 445.7C726.7 447.2 730.3 450.6 732.9 452.9C735.5 455.2 737.6 457.5 740.0 459.3C742.4 461.1 744.7 462.7 747.1 463.6C749.5 464.6 751.9 464.2 754.3 465.0C756.7 465.8 758.8 467.5 761.4 468.6C764.0 469.7 767.1 470.1 770.0 471.4C772.9 472.7 776.0 475.1 778.6 476.4C781.2 477.7 783.3 478.9 785.7 479.3C788.1 479.7 790.5 479.0 792.9 478.6C795.3 478.2 798.0 478.6 800.0 476.9C802.0 475.2 803.1 470.6 804.7 468.3C806.3 466.0 807.6 465.0 809.4 462.8C811.2 460.6 813.6 458.3 815.7 454.9C817.8 451.5 819.9 446.8 822.0 442.3C824.1 437.9 826.7 432.4 828.3 428.2C829.9 424.0 829.7 421.3 831.7 417.1C833.7 412.9 837.6 407.4 840.3 402.9C843.0 398.4 845.7 394.3 848.1 390.0C850.5 385.7 852.6 381.6 854.6 377.1C856.6 372.6 858.4 368.6 860.3 362.9C862.2 357.2 863.9 350.0 866.0 342.9C868.1 335.8 870.8 326.7 873.1 320.0C875.4 313.3 877.7 308.1 880.0 302.9C882.3 297.7 884.7 293.3 887.1 289.0C889.5 284.7 891.1 282.1 894.3 277.0C897.4 271.9 902.6 264.4 906.0 258.6C909.4 252.8 911.9 246.7 914.6 242.3C917.3 237.9 919.7 235.1 922.0 232.0C924.3 228.9 926.3 227.5 928.3 224.0C930.3 220.5 931.4 217.1 934.0 211.0C936.6 204.9 940.7 195.9 943.7 187.4C946.8 178.9 949.5 168.3 952.3 160.0C955.1 151.7 959.0 141.2 960.3 137.5" stroke="#80deea" stroke-width="1.15" fill="none"/><path d="M9.9 464.7C11.5 464.8 14.8 465.8 19.7 465.3C24.6 464.9 33.2 463.1 39.4 462.0C45.6 460.9 52.6 459.5 57.0 458.5C61.4 457.5 61.0 457.0 65.7 456.1C70.5 455.2 79.9 453.2 85.5 452.9C91.1 452.6 94.4 453.3 99.3 454.3C104.2 455.3 109.6 457.6 115.0 458.8C120.4 460.0 127.0 460.8 131.5 461.3C136.0 461.8 138.6 461.7 142.0 461.6C145.4 461.6 148.3 461.4 152.0 461.0C155.7 460.6 158.1 459.7 164.4 459.2C170.7 458.7 183.2 458.4 190.0 457.9C196.8 457.4 198.3 456.9 205.0 456.4C211.7 455.9 220.3 455.5 230.0 454.8C239.7 454.1 254.8 453.3 263.0 452.2C271.2 451.1 274.2 449.7 279.4 448.2C284.6 446.7 288.7 442.9 294.2 443.0C299.7 443.1 306.3 446.4 312.3 448.9C318.3 451.4 323.2 455.1 330.0 458.1C336.8 461.1 343.6 463.9 352.9 467.0C362.2 470.1 374.8 473.5 385.7 476.8C396.6 480.1 407.6 484.3 418.6 486.7C429.6 489.1 440.5 490.6 451.5 491.0C462.5 491.4 473.4 490.0 484.4 489.0C495.3 488.0 506.3 486.3 517.2 485.0C528.2 483.7 539.1 482.7 550.1 481.1C561.1 479.5 572.0 477.2 583.0 475.2C594.0 473.2 604.7 470.7 615.9 469.3C627.1 467.9 640.5 467.8 650.0 467.0C659.5 466.2 663.6 465.2 672.9 464.4C682.2 463.6 694.8 462.4 705.7 462.1C716.7 461.8 727.6 462.2 738.6 462.7C749.6 463.2 761.3 464.5 771.5 465.0C781.7 465.5 794.2 465.9 800.0 465.9C805.8 465.9 802.4 465.8 806.3 465.1C810.2 464.5 818.1 463.6 823.6 462.0C829.1 460.4 834.1 458.1 839.3 455.7C844.5 453.3 849.9 450.6 855.0 447.8C860.1 445.1 864.2 442.7 870.0 439.2C875.8 435.7 883.2 431.2 889.8 426.6C896.4 422.0 903.0 416.7 909.6 411.8C916.2 406.9 923.3 401.9 929.3 397.0C935.3 392.1 940.5 387.4 945.7 382.2C950.9 376.9 957.9 368.3 960.3 365.5" stroke="#4444ff" stroke-width="1.05" fill="none"/><line x1="10" y1="52.3" x2="1043.5" y2="52.3" stroke="#089981" stroke-opacity="0.75" stroke-width="1" stroke-dasharray="1 1.85"/></g><text transform="translate(75.2 326.8) scale(0.9555 1)" x="0" y="0" font-size="22.7" fill="#131722">Previous Resistance now possibly support?</text><text font-size="11.8" fill="#131722"><tspan x="17.5" y="12.1">Vol</tspan><tspan x="17.5" y="28.1">EMA (20, close)</tspan><tspan x="17.5" y="44.1">EMA (200, close)</tspan></text><text font-size="11.8"><tspan x="40" y="12.1" fill="#22a596">6.44</tspan><tspan x="65.3" y="12.1" fill="#22a596">M</tspan><tspan x="108" y="28.1" fill="#80deea">196.99</tspan><tspan x="115" y="44.1" fill="#3a3af5">165.66</tspan></text><g clip-path="url(#bclip)"><rect x="9.6" y="652" width="17.6" height="14" fill="#fff" fill-opacity="0.8"/><path d="M10.0 651.5 L18.4 645.6 L26.8 651.5 V661 Q26.8 662.6 25.2 662.6 H11.6 Q10.0 662.6 10.0 661 Z" fill="#fff" stroke="#089981" stroke-width="1.6"/><text x="18.4" y="658.8" font-size="10.8" font-weight="bold" fill="#089981" text-anchor="middle">E</text></g><rect x="37.9" y="652" width="19.4" height="14" fill="#fff" fill-opacity="0.8"/><circle cx="47.6" cy="654.6" r="8.8" fill="#fff" stroke="#2962ff" stroke-width="1.7"/><text x="47.8" y="659" font-size="11" font-weight="bold" fill="#2962ff" text-anchor="middle">D</text><rect x="171.5" y="652" width="17.6" height="14" fill="#fff" fill-opacity="0.8"/><path d="M171.9 648.6 Q171.9 647 173.5 647 H187.1 Q188.7 647 188.7 648.6 V659.5 L180.3 664.2 L171.9 659.5 Z" fill="#fff" stroke="#f23645" stroke-width="1.6"/><text x="180.3" y="658.8" font-size="10.8" font-weight="bold" fill="#f23645" text-anchor="middle">E</text><rect x="197.6" y="652" width="19.4" height="14" fill="#fff" fill-opacity="0.8"/><circle cx="207.3" cy="654.6" r="8.8" fill="#fff" stroke="#2962ff" stroke-width="1.7"/><text x="207.5" y="659" font-size="11" font-weight="bold" fill="#2962ff" text-anchor="middle">D</text><rect x="342.0" y="652" width="17.6" height="14" fill="#fff" fill-opacity="0.8"/><path d="M342.4 651.5 L350.8 645.6 L359.2 651.5 V661 Q359.2 662.6 357.6 662.6 H344.0 Q342.4 662.6 342.4 661 Z" fill="#fff" stroke="#089981" stroke-width="1.6"/><text x="350.8" y="658.8" font-size="10.8" font-weight="bold" fill="#089981" text-anchor="middle">E</text><rect x="370.9" y="652" width="19.4" height="14" fill="#fff" fill-opacity="0.8"/><circle cx="380.6" cy="654.6" r="8.8" fill="#fff" stroke="#2962ff" stroke-width="1.7"/><text x="380.8" y="659" font-size="11" font-weight="bold" fill="#2962ff" text-anchor="middle">D</text><rect x="509.9" y="652" width="17.6" height="14" fill="#fff" fill-opacity="0.8"/><path d="M510.3 651.5 L518.7 645.6 L527.1 651.5 V661 Q527.1 662.6 525.5 662.6 H511.9 Q510.3 662.6 510.3 661 Z" fill="#fff" stroke="#089981" stroke-width="1.6"/><text x="518.7" y="658.8" font-size="10.8" font-weight="bold" fill="#089981" text-anchor="middle">E</text><rect x="541.5" y="652" width="19.4" height="14" fill="#fff" fill-opacity="0.8"/><circle cx="551.2" cy="654.6" r="8.8" fill="#fff" stroke="#2962ff" stroke-width="1.7"/><text x="551.4" y="659" font-size="11" font-weight="bold" fill="#2962ff" text-anchor="middle">D</text><rect x="683.1" y="652" width="17.6" height="14" fill="#fff" fill-opacity="0.8"/><path d="M683.5 651.5 L691.9 645.6 L700.3 651.5 V661 Q700.3 662.6 698.7 662.6 H685.1 Q683.5 662.6 683.5 661 Z" fill="#fff" stroke="#089981" stroke-width="1.6"/><text x="691.9" y="658.8" font-size="10.8" font-weight="bold" fill="#089981" text-anchor="middle">E</text><rect x="714.7" y="652" width="19.4" height="14" fill="#fff" fill-opacity="0.8"/><circle cx="724.4" cy="654.6" r="8.8" fill="#fff" stroke="#2962ff" stroke-width="1.7"/><text x="724.6" y="659" font-size="11" font-weight="bold" fill="#2962ff" text-anchor="middle">D</text><rect x="848.3" y="652" width="17.6" height="14" fill="#fff" fill-opacity="0.8"/><path d="M848.7 651.5 L857.1 645.6 L865.5 651.5 V661 Q865.5 662.6 863.9 662.6 H850.3 Q848.7 662.6 848.7 661 Z" fill="#fff" stroke="#089981" stroke-width="1.6"/><text x="857.1" y="658.8" font-size="10.8" font-weight="bold" fill="#089981" text-anchor="middle">E</text><rect x="877.2" y="652" width="19.4" height="14" fill="#fff" fill-opacity="0.8"/><circle cx="886.9" cy="654.6" r="8.8" fill="#fff" stroke="#2962ff" stroke-width="1.7"/><text x="887.1" y="659" font-size="11" font-weight="bold" fill="#2962ff" text-anchor="middle">D</text><circle cx="959.8" cy="654.9" r="9.6" fill="#fff"/><path d="M950.6 653.4 A9.3 9.3 0 0 1 962.8 646.1 M968.7 651.7 A9.3 9.3 0 0 1 952.8 661.1" fill="none" stroke="#9c27b0" stroke-width="1.6"/><path d="M962.4 648.7 L955.6 655.7 L960.4 655.5 L956.4 660.3 L964.2 653.5 L959.4 653.7 Z" fill="#9c27b0" stroke="#9c27b0" stroke-width="0.5" stroke-linejoin="round"/><circle cx="965.9" cy="648.3" r="2.7" fill="#f23645"/><path d="M949.6 653.2 Q950.3000000000001 657.5 954.6 658.2 Q950.3000000000001 658.9000000000001 949.6 663.2 Q948.9 658.9000000000001 944.6 658.2 Q948.9 657.5 949.6 653.2Z" fill="#6b5cff"/><rect x="1005.8" y="646.8" width="16.4" height="16.4" rx="2.2" fill="#fff" stroke="#e040fb" stroke-width="1.7"/><text x="1014.2" y="659" font-size="11" font-weight="bold" fill="#e040fb" text-anchor="middle">E</text><path d="M1002.6 653.6 q1.4 -1.2 2.8 0 t2.8 0 M1002.6 656.4 q1.4 -1.2 2.8 0 t2.8 0" fill="none" stroke="#e040fb" stroke-width="1.1"/><g font-size="12.3" fill="#131722"><text x="1052.2" y="614.9">132.00</text><text x="1052.2" y="585.8">136.00</text><text x="1052.2" y="556.7">140.00</text><text x="1052.2" y="527.6">144.00</text><text x="1052.2" y="498.5">148.00</text><text x="1052.2" y="469.3">152.00</text><text x="1052.2" y="440.2">156.00</text><text x="1052.2" y="411.1">160.00</text><text x="1052.2" y="382.0">164.00</text><text x="1052.2" y="352.9">168.00</text><text x="1052.2" y="323.8">172.00</text><text x="1052.2" y="294.6">176.00</text><text x="1052.2" y="265.5">180.00</text><text x="1052.2" y="236.4">184.00</text><text x="1052.2" y="207.3">188.00</text><text x="1052.2" y="178.2">192.00</text><text x="1052.2" y="149.1">196.00</text><text x="1052.2" y="119.9">200.00</text><text x="1052.2" y="90.8">204.00</text><text x="1052.2" y="32.6">212.00</text><text x="1052.2" y="3.5">216.00</text></g><path d="M1044 44 H1094.0 Q1096.3 44 1096.3 46.3 V70.7 Q1096.3 73 1094.0 73 H1044 Z" fill="#089981"/><text x="1052.2" y="56.3" font-size="12.3" fill="#fff">208.77</text><text x="1052.2" y="69.6" font-size="12.3" fill="rgba(255,255,255,0.8)">44:50</text><path d="M1044 130 H1094.0 Q1096.3 130 1096.3 132.3 V143.5 Q1096.3 145.8 1094.0 145.8 H1044 Z" fill="#80deea"/><text x="1052.2" y="142.3" font-size="12.3" fill="#131722">196.99</text><path d="M1044 357.4 H1094.0 Q1096.3 357.4 1096.3 359.7 V371.4 Q1096.3 373.7 1094.0 373.7 H1044 Z" fill="#2e2ef5"/><text x="1052.2" y="369.7" font-size="12.3" fill="#fff">165.66</text><path d="M1044 633.4 H1091.0 Q1093.3 633.4 1093.3 635.6999999999999 V647.2 Q1093.3 649.5 1091.0 649.5 H1044 Z" fill="#26a69a"/><text x="1052.2" y="645.7" font-size="12.3" fill="#fff">6.44 M</text><g font-size="12" fill="#131722" clip-path="url(#tax)"><text x="17.8" y="684.7" text-anchor="middle">Nov</text><text x="72.0" y="684.7" text-anchor="middle">Dec</text><text x="128.8" y="684.7" text-anchor="middle" font-weight="bold" letter-spacing="1">2025</text><text x="183.0" y="684.7" text-anchor="middle">Feb</text><text x="234.4" y="684.7" text-anchor="middle">Mar</text><text x="291.3" y="684.7" text-anchor="middle">Apr</text><text x="348.1" y="684.7" text-anchor="middle">May</text><text x="405.0" y="684.7" text-anchor="middle">Jun</text><text x="459.1" y="684.7" text-anchor="middle">Jul</text><text x="518.7" y="684.7" text-anchor="middle">Aug</text><text x="575.5" y="684.7" text-anchor="middle">Sep</text><text x="632.4" y="684.7" text-anchor="middle">Oct</text><text x="694.6" y="684.7" text-anchor="middle">Nov</text><text x="746.1" y="684.7" text-anchor="middle">Dec</text><text x="805.6" y="684.7" text-anchor="middle" font-weight="bold" letter-spacing="1">2026</text><text x="859.8" y="684.7" text-anchor="middle">Feb</text><text x="911.2" y="684.7" text-anchor="middle">Mar</text><text x="970.8" y="684.7" text-anchor="middle">Apr</text><text x="1027.6" y="684.7" text-anchor="middle">May</text></g><path d="M9.5 0V693.5H1111.5V0" stroke="#e6e6e6" stroke-width="1" fill="none"/><path d="M9.5 0.5H1043.5" stroke="#f3f3f3" stroke-width="1" fill="none"/></svg></body></html>
